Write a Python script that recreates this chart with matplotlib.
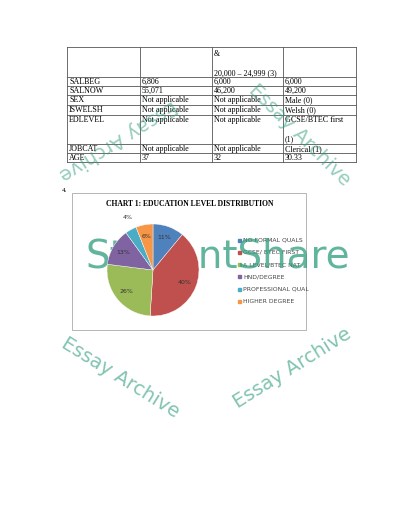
import matplotlib
matplotlib.use("Agg")
import matplotlib.pyplot as plt

row_names = ["", "SALBEG", "SALNOW", "SEX", "ISWELSH", "EDLEVEL", "JOBCAT", "AGE"]
col2 = ["", "6,806", "55,071", "Not applicable", "Not applicable", "Not applicable", "Not applicable", "37"]
col3 = ["&\n\n20,000 \u2013 24,999 (3)", "6,000", "46,200", "Not applicable", "Not applicable", "Not applicable", "Not applicable", "32"]
col4 = ["", "6,000", "49,200", "Male (0)", "Welsh (0)", "GCSE/BTEC first\n\n(1)", "Clerical (1)", "30.33"]
row_lines = [47, 77, 86, 95, 105, 115, 144, 153, 162]
col_lines = [67, 140, 212, 283, 356]

labels = ["NO FORMAL QUALS", "GCSE/ BTEC FIRST", "A LEVEL/BTEC NAT", "HND/DEGREE",
          "PROFESSIONAL QUAL", "HIGHER DEGREE"]
shares = [11, 40, 26, 13, 4, 6]
colors = ["#4F81BD", "#C0504D", "#9BBB59", "#8064A2", "#4BACC6", "#F79646"]

fig = plt.figure(figsize=(4, 5.18), dpi=100)
page = fig.add_axes([0, 0, 1, 1])
page.set_xlim(0, 400)
page.set_ylim(518, 0)
page.axis("off")

# table
for y in row_lines:
    page.plot([col_lines[0], col_lines[-1]], [y, y], color="#555555", lw=0.6)
for x in col_lines:
    page.plot([x, x], [row_lines[0], row_lines[-1]], color="#555555", lw=0.6)
cols = [row_names, col2, col3, col4]
for c, vals in enumerate(cols):
    for r, v in enumerate(vals):
        y0 = 50 if r == 0 else row_lines[r] + 1
        page.text(col_lines[c] + 2, y0, v, fontsize=5.8, family="Liberation Serif",
                  va="top", linespacing=1.25)
page.text(62, 192, "4.", fontsize=5, family="Liberation Serif")

# chart box
page.add_patch(plt.Rectangle((72, 193), 234, 137, fill=False, ec="#aaaaaa", lw=0.6))
page.text(190, 204, "CHART 1: EDUCATION LEVEL DISTRIBUTION", fontsize=5.5,
          family="Liberation Serif", weight="bold", ha="center", va="center")

ax = fig.add_axes([107 / 400, 1 - 316 / 518, 92 / 400, 92 / 518])
wedges, _, autotexts = ax.pie(shares, colors=colors, startangle=90, counterclock=False,
                              autopct="%d%%", pctdistance=0.75, radius=1,
                              wedgeprops=dict(ec="white", lw=0.3),
                              textprops=dict(fontsize=4.5, color="#333333"))
autotexts[4].set_position((-0.55, 1.15))
ax.set_xlim(-1, 1)
ax.set_ylim(-1, 1)
ax.set_aspect("auto")

for i, (lab, col) in enumerate(zip(labels, colors)):
    y = 240 + i * 12.3
    page.add_patch(plt.Rectangle((238, y - 1.5), 3, 3, color=col))
    page.text(243, y, lab, fontsize=4.4, va="center", color="#444444")

# watermark
wm = "#2e9c7c"
page.text(218, 256, "StudentShare", fontsize=28, color=wm, alpha=0.75,
          ha="center", va="center")
page.text(120, 378, "Essay Archive", fontsize=14, color=wm, alpha=0.6, rotation=-32,
          ha="center", va="center")
page.text(292, 368, "Essay Archive", fontsize=14, color=wm, alpha=0.6, rotation=32,
          ha="center", va="center")
page.text(118, 140, "Essay Archive", fontsize=14, color=wm, alpha=0.5, rotation=212,
          ha="center", va="center")
page.text(300, 135, "Essay Archive", fontsize=14, color=wm, alpha=0.5, rotation=-45,
          ha="center", va="center")

fig.savefig("out.png", dpi=100)
